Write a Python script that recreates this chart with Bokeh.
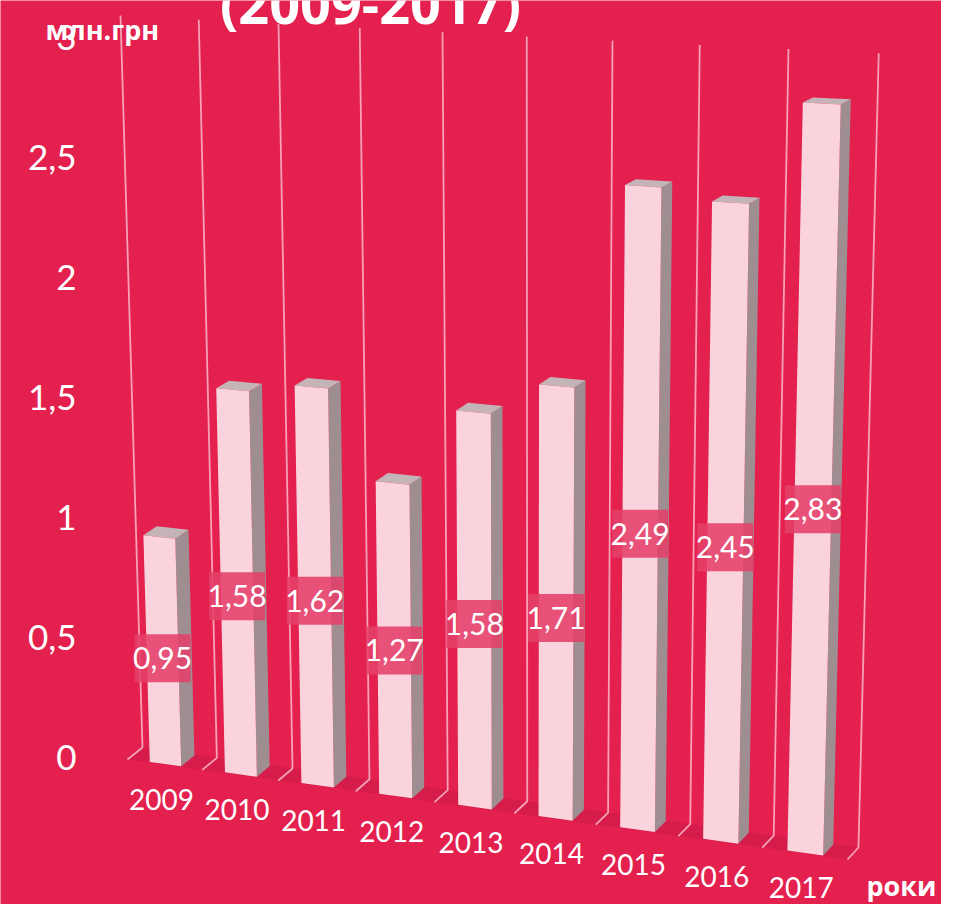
from bokeh.plotting import figure
from bokeh.models import Range1d, LinearAxis, FixedTicker, ColumnDataSource
from bokeh.core.properties import value
from bokeh.embed import file_html
from bokeh.resources import INLINE

# ---------------- data ----------------
years = ["2009", "2010", "2011", "2012", "2013", "2014", "2015", "2016", "2017"]
amounts = [0.95, 1.58, 1.62, 1.27, 1.58, 1.71, 2.49, 2.45, 2.83]
amount_labels = ["0,95", "1,58", "1,62", "1,27", "1,58", "1,71", "2,49", "2,45", "2,83"]
y_ticks = [0, 0.5, 1, 1.5, 2, 2.5, 3]
y_tick_labels = ["0", "0,5", "1", "1,5", "2", "2,5", "3"]
title_text = "(2009-2017)"
y_title = "млн.грн"
x_title = "роки"
v_max = 3

# ---------------- style ----------------
BG = "#E4204F"
FLOOR = "#D51C4A"
GRID = "#F7AFC2"
FRONT = "#FAD3DD"
SIDE = "#9E8E92"
TOP = "#C4B4B8"
BOX = "#E5406A"
NUM_FONT = value("Lato")
BOLD_FONT = value("Open Sans")

W, H = 941, 904
PX0 = 757          # screen y of value 0 on the left axis
PPU = 240          # px per unit on the left axis
AXIS_X = 88        # where the value axis stands

n = len(years)


def v_of(Y):
    """screen y (px from top) -> y data value"""
    return (PX0 - Y) / PPU


# perspective projection of (category coord u, value v, depth d) -> screen px
def project(u, v, d):
    bx = 142 + 73.7 * u + 0.65 * u * u
    by = 747 + 10.3 * u + 0.09 * u * u
    tx = 120 + 77.5 * u + 0.75 * u * u
    ty = 15 + 4.2 * u
    k = 0.05
    f = v / (v_max * (1 + k) - k * v)
    dx = -15 + 4.0 * u / n
    dy = 12 - 2.2 * v
    return bx + f * (tx - bx) + d * dx, by + f * (ty - by) + d * dy


def P(u, v, d):
    X, Y = project(u, v, d)
    return X, v_of(Y)


p = figure(width=W, height=H, output_backend="svg", toolbar_location=None,
           x_axis_type=None, y_axis_type=None,
           x_range=Range1d(0, W), y_range=Range1d(v_of(H), v_of(0)),
           min_border_left=0, min_border_right=0, min_border_top=0, min_border_bottom=0,
           background_fill_color=BG, border_fill_color=BG, outline_line_color=None)
p.title.visible = False

# floor
fl = [P(0, 0, 0), P(n, 0, 0), P(n, 0, 1), P(0, 0, 1)]
p.patch([q[0] for q in fl], [q[1] for q in fl], fill_color=FLOOR, line_color=None)

# wall / floor gridlines
gx, gy = [], []
for u in range(n + 1):
    pts = [P(u, v_max, 0), P(u, 0, 0), P(u, 0, 1)]
    gx.append([q[0] for q in pts])
    gy.append([q[1] for q in pts])
p.multi_line(gx, gy, line_color=GRID, line_width=1.8, line_alpha=0.9)

# bars
HALF = 0.21
DF, DB = 0.95, 0.05
fx, fy, sx, sy, tx_, ty_ = [], [], [], [], [], []
for i, v in enumerate(amounts):
    u0, u1 = i + 0.5 - HALF, i + 0.5 + HALF
    front = [P(u0, 0, DF), P(u1, 0, DF), P(u1, v, DF), P(u0, v, DF)]
    side = [P(u1, 0, DF), P(u1, 0, DB), P(u1, v, DB), P(u1, v, DF)]
    top = [P(u0, v, DF), P(u1, v, DF), P(u1, v, DB), P(u0, v, DB)]
    sx.append([q[0] for q in side]); sy.append([q[1] for q in side])
    tx_.append([q[0] for q in top]); ty_.append([q[1] for q in top])
    fx.append([q[0] for q in front]); fy.append([q[1] for q in front])
p.patches(sx, sy, fill_color=SIDE, line_color=None)
p.patches(tx_, ty_, fill_color=TOP, line_color=None)
p.patches(fx, fy, fill_color=FRONT, line_color=None)

# value labels
lx, ly = [], []
for i, v in enumerate(amounts):
    X, Y = P(i + 0.5, 0.47 * v, DF)
    lx.append(X); ly.append(Y)
src = ColumnDataSource(dict(x=lx, y=ly, t=amount_labels))
p.rect("x", "y", width=56, height=48, width_units="screen", height_units="screen",
       source=src, fill_color=BOX, fill_alpha=0.88, line_color=None)
p.text("x", "y", text="t", source=src, text_align="center", text_baseline="middle",
       text_color="white", text_font=NUM_FONT, text_font_size="30px")

# year labels
yx, yy = [], []
for i in range(n):
    X, Y = project(i + 0.5, 0, DF)
    yx.append(X - 4); yy.append(v_of(Y + 35))
p.text(yx, yy, text=years, text_align="center", text_baseline="middle",
       text_color="white", text_font=NUM_FONT, text_font_size="28px")

# y axis (drawn inside the picture, at the left wall)
ax = LinearAxis(ticker=FixedTicker(ticks=y_ticks), fixed_location=AXIS_X,
                major_label_overrides={t: s for t, s in zip(y_ticks, y_tick_labels)})
ax.axis_line_color = None
ax.major_tick_line_color = None
ax.minor_tick_line_color = None
ax.major_label_standoff = 6
ax.major_label_text_color = "white"
ax.major_label_text_font = "Lato"
ax.major_label_text_font_size = "35px"
p.add_layout(ax, "left")

# titles (text glyphs)
p.text([370], [v_of(2)], text=[title_text], text_align="center", text_baseline="middle",
       text_color="white", text_font=BOLD_FONT, text_font_style="bold", text_font_size="54px")
p.text([45], [v_of(29)], text=[y_title], text_align="left", text_baseline="middle",
       text_color="white", text_font=BOLD_FONT, text_font_style="bold", text_font_size="27px")
p.text([866], [v_of(885)], text=[x_title], text_align="left", text_baseline="middle",
       text_color="white", text_font=BOLD_FONT, text_font_style="bold", text_font_size="27px")

open("out.html", "w").write(file_html(p, INLINE))
